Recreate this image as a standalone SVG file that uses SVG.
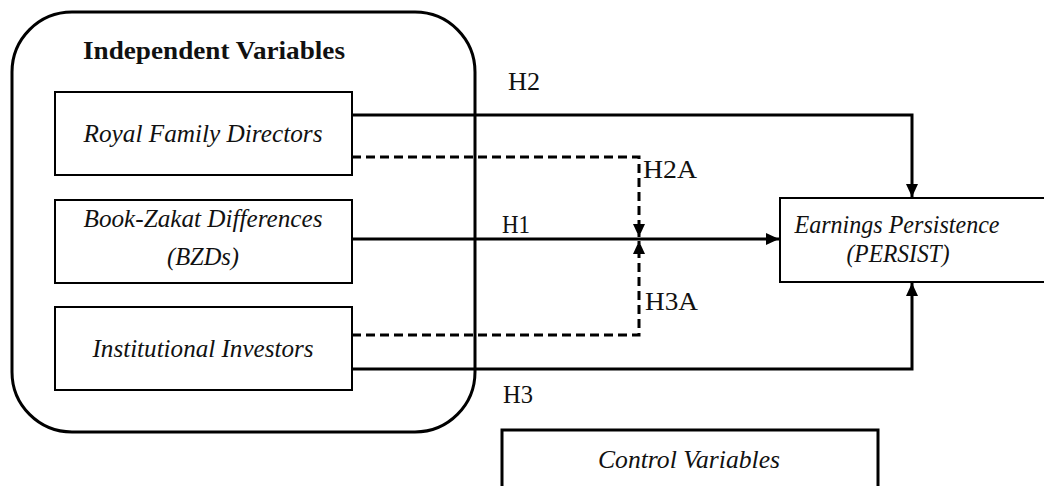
<svg xmlns="http://www.w3.org/2000/svg" width="1044" height="486" viewBox="0 0 1044 486">
<defs>
<style>
.box{fill:#fff;stroke:#000;stroke-width:2}
.t{font-family:"Liberation Serif",serif;font-size:25px;fill:#111}
.i{font-style:italic;text-anchor:middle}
.ln{fill:none;stroke:#000;stroke-width:3}
.d{stroke-dasharray:9 5}
</style>
<marker id="ah" viewBox="0 0 13 12" refX="13" refY="6" markerWidth="13" markerHeight="12" markerUnits="userSpaceOnUse" orient="auto">
<path d="M0,0 L13,6 L0,12 Z" fill="#000"/>
</marker>
</defs>
<rect width="1044" height="486" fill="#fff"/>
<g id="independent">
<rect x="12" y="12" width="463" height="420" rx="60" ry="60" fill="none" stroke="#000" stroke-width="3"/>
<text class="t" x="83" y="59" font-weight="bold" font-size="26" textLength="262" lengthAdjust="spacingAndGlyphs">Independent Variables</text>
</g>
<g id="connectors">
<polyline class="ln" points="352,115 912,115 912,197" marker-end="url(#ah)"/>
<polyline class="ln d" points="352,157 639,157 639,237" marker-end="url(#ah)"/>
<line class="ln" x1="352" y1="239" x2="779" y2="239" marker-end="url(#ah)"/>
<polyline class="ln d" points="352,335 639,335 639,241" marker-end="url(#ah)"/>
<polyline class="ln" points="352,369 912,369 912,283" marker-end="url(#ah)"/>
</g>
<g id="royal">
<rect class="box" x="55" y="92" width="297" height="83"/>
<text class="t i" x="203" y="142" textLength="239" lengthAdjust="spacingAndGlyphs">Royal Family Directors</text>
</g>
<g id="bzd">
<rect class="box" x="55" y="200" width="297" height="83"/>
<text class="t i" x="203" y="227" textLength="239" lengthAdjust="spacingAndGlyphs">Book-Zakat Differences</text>
<text class="t i" x="203" y="265" textLength="72" lengthAdjust="spacingAndGlyphs">(BZDs)</text>
</g>
<g id="institutional">
<rect class="box" x="55" y="307" width="297" height="83"/>
<text class="t i" x="203" y="357" textLength="221" lengthAdjust="spacingAndGlyphs">Institutional Investors</text>
</g>
<g id="earnings">
<rect class="box" x="780" y="198" width="280" height="84"/>
<text class="t i" x="897" y="233" textLength="205" lengthAdjust="spacingAndGlyphs">Earnings Persistence</text>
<text class="t i" x="898" y="262" textLength="103" lengthAdjust="spacingAndGlyphs">(PERSIST)</text>
</g>
<g id="control">
<rect x="502" y="430" width="376" height="70" fill="#fff" stroke="#000" stroke-width="3"/>
<text class="t i" x="689" y="468" textLength="182" lengthAdjust="spacingAndGlyphs">Control Variables</text>
</g>
<g id="labels">
<text class="t" x="508" y="90" textLength="32" lengthAdjust="spacingAndGlyphs">H2</text>
<text class="t" x="502" y="233" textLength="28" lengthAdjust="spacingAndGlyphs">H1</text>
<text class="t" x="503" y="403" textLength="30" lengthAdjust="spacingAndGlyphs">H3</text>
<text class="t" x="643" y="178" textLength="54" lengthAdjust="spacingAndGlyphs">H2A</text>
<text class="t" x="645" y="310" textLength="53" lengthAdjust="spacingAndGlyphs">H3A</text>
</g>
</svg>
